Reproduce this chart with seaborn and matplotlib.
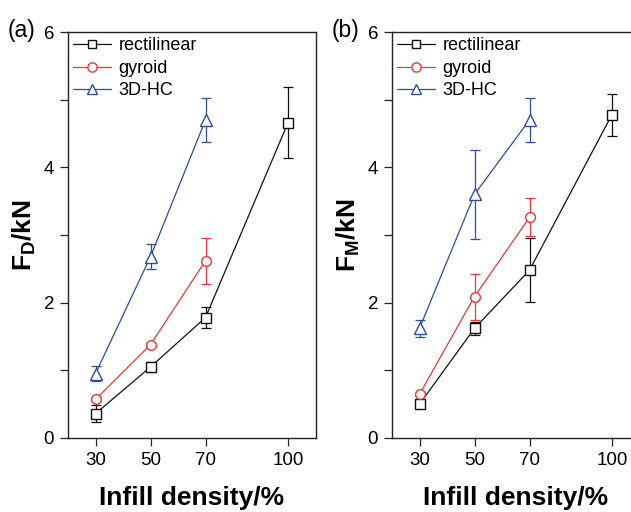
import matplotlib
matplotlib.use("Agg")
import matplotlib.pyplot as plt
from matplotlib.lines import Line2D
from matplotlib.ticker import MultipleLocator
import seaborn as sns
import pandas as pd

# Infill densities (%) tested for each structure
density_rect = [30, 50, 70, 100]
density_other = [30, 50, 70]

# (a) F_D in kN, with standard deviations
fd_rect = [0.36, 1.05, 1.78, 4.66]
fd_rect_err = [0.13, 0.07, 0.15, 0.52]
fd_gyroid = [0.57, 1.38, 2.62]
fd_gyroid_err = [0.03, 0.03, 0.34]
fd_hc = [0.95, 2.68, 4.70]
fd_hc_err = [0.11, 0.18, 0.33]

# (b) F_M in kN, with standard deviations
fm_rect = [0.50, 1.62, 2.48, 4.78]
fm_rect_err = [0.05, 0.10, 0.47, 0.31]
fm_gyroid = [0.645, 2.09, 3.26]
fm_gyroid_err = [0.03, 0.34, 0.28]
fm_hc = [1.62, 3.60, 4.70]
fm_hc_err = [0.12, 0.66, 0.33]

structures = ["rectilinear", "gyroid", "3D-HC"]
colors = {"rectilinear": "#111111", "gyroid": "#ee3636", "3D-HC": "#2b4ea2"}
markers = {"rectilinear": "s", "gyroid": "o", "3D-HC": "^"}
msizes = {"rectilinear": 6.5, "gyroid": 7.0, "3D-HC": 8.0}

xticks = [30, 50, 70, 100]
yticks = [0, 2, 4, 6]

sns.set_style("ticks")
plt.rcParams["font.family"] = ["Liberation Sans", "DejaVu Sans"]
plt.rcParams["mathtext.fontset"] = "custom"
plt.rcParams["mathtext.rm"] = "Liberation Sans"
plt.rcParams["mathtext.bf"] = "Liberation Sans:bold"
plt.rcParams["mathtext.it"] = "Liberation Sans:italic"
for key in ["text.color", "axes.labelcolor", "xtick.color", "ytick.color",
            "xtick.labelcolor", "ytick.labelcolor"]:
    plt.rcParams[key] = "black"


def build_frame(rect, rect_err, gyr, gyr_err, hc, hc_err):
    rows = []
    for name, xs, ys, es in [
        ("rectilinear", density_rect, rect, rect_err),
        ("gyroid", density_other, gyr, gyr_err),
        ("3D-HC", density_other, hc, hc_err),
    ]:
        for x, y, e in zip(xs, ys, es):
            rows.append({"density": x, "force": y, "err": e, "structure": name})
    return pd.DataFrame(rows)


df_a = build_frame(fd_rect, fd_rect_err, fd_gyroid, fd_gyroid_err, fd_hc, fd_hc_err)
df_b = build_frame(fm_rect, fm_rect_err, fm_gyroid, fm_gyroid_err, fm_hc, fm_hc_err)

fig = plt.figure(figsize=(6.31, 5.12), dpi=100)
ax_w = 247.5 / 631
ax_h = 406 / 512
ax_b = 74 / 512
ax_a = fig.add_axes([68 / 631, ax_b, ax_w, ax_h])
ax_bb = fig.add_axes([392 / 631, ax_b, ax_w, ax_h])


def draw_panel(ax, df, ylabel, tag, show_right=True):
    for name in structures:
        sub = df[df["structure"] == name]
        c = colors[name]
        ax.errorbar(sub["density"], sub["force"], yerr=sub["err"], fmt="none",
                    ecolor=c, elinewidth=0.9, capsize=3.5, capthick=0.9, zorder=2)
        sns.lineplot(data=sub, x="density", y="force", ax=ax, color=c,
                     marker=markers[name], markersize=msizes[name],
                     markerfacecolor="white", markeredgecolor=c,
                     markeredgewidth=1.0, linewidth=0.9, zorder=3,
                     errorbar=None, legend=False)
    ax.set_xlim(20, 110)
    ax.set_ylim(0, 6)
    ax.set_xticks(xticks)
    ax.set_xticklabels([str(t) for t in xticks])
    ax.set_yticks(yticks)
    ax.yaxis.set_minor_locator(MultipleLocator(1))
    ax.tick_params(axis="both", which="both", direction="out", length=5.5,
                   width=0.9, labelsize=13.5, pad=4.5, color="#222222",
                   labelcolor="black")
    ax.tick_params(axis="y", which="minor", length=5.5)
    for s in ax.spines.values():
        s.set_visible(True)
        s.set_linewidth(1.0)
        s.set_color("#222222")
    ax.spines["right"].set_visible(show_right)
    ax.set_xlabel("Infill density/%", fontsize=19, fontweight="bold", labelpad=12,
                  color="black")
    ax.set_ylabel(ylabel, fontsize=19, labelpad=4, color="black")

    handles = [
        Line2D([0], [0], color=colors[n], marker=markers[n], markersize=msizes[n] * 0.95,
               markerfacecolor="white", markeredgecolor=colors[n],
               markeredgewidth=1.0, linewidth=0.9)
        for n in structures
    ]
    ax.legend(handles, structures, loc="upper left", frameon=False, fontsize=13,
              handlelength=2.1, handletextpad=0.4, labelspacing=0.3,
              borderaxespad=0.0, borderpad=0.3, numpoints=1, labelcolor="black")
    pos = ax.get_position()
    fig.text(pos.x0 - 60 / 631, pos.y1 + 2 / 512, tag, fontsize=16.5,
             ha="left", va="center", color="black")


draw_panel(ax_a, df_a, r"$\mathbf{F_D/kN}$", "(a)")
draw_panel(ax_bb, df_b, r"$\mathbf{F_M/kN}$", "(b)", show_right=False)

fig.savefig("out.png", dpi=100)
